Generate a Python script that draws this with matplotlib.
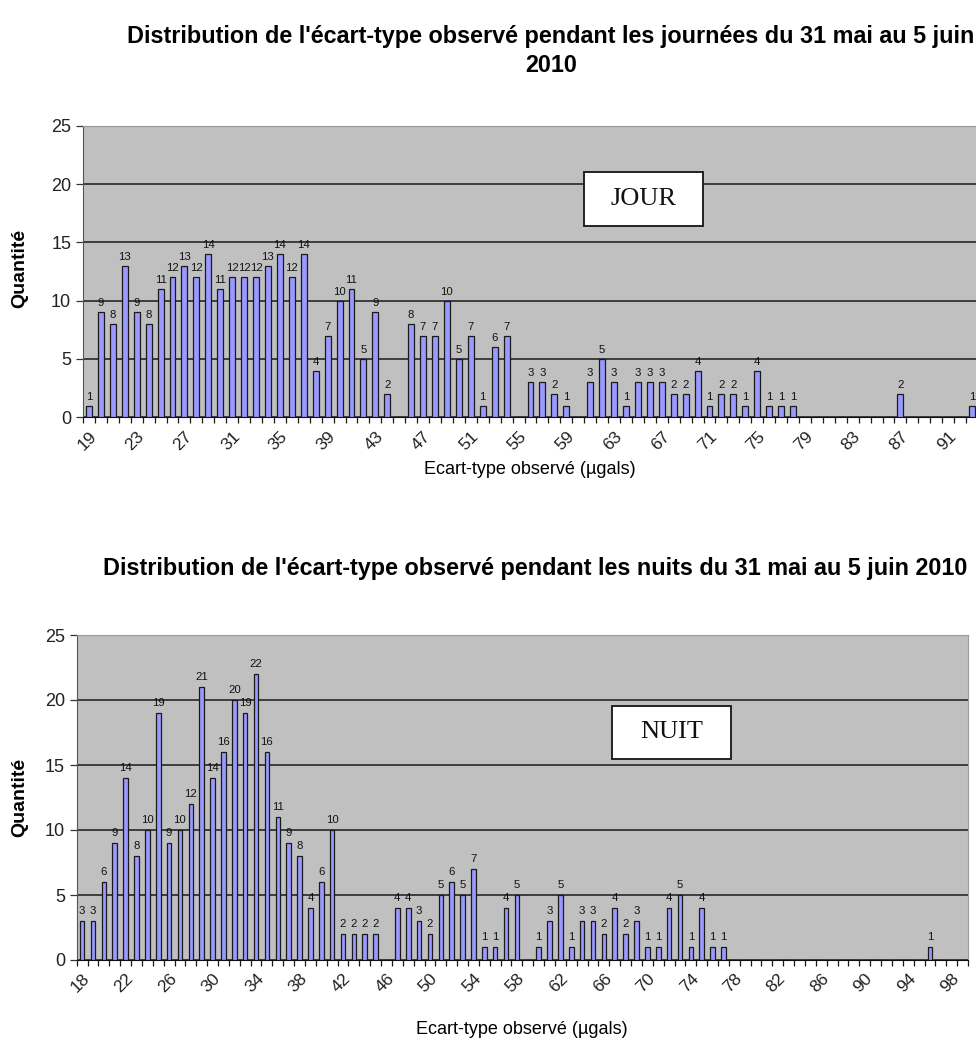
import numpy as np
import matplotlib
matplotlib.use("Agg")
import matplotlib.pyplot as plt

plt.rcParams['font.family'] = ['Liberation Sans', 'DejaVu Sans']

# Jour : ecart-type 19 .. 93
jour_ecart = list(range(19, 94))
jour_qte = [1, 9, 8, 13, 9, 8, 11, 12, 13, 12, 14, 11, 12, 12, 12, 13, 14, 12, 14, 4,
            7, 10, 11, 5, 9, 2, 0, 8, 7, 7, 10, 5, 7, 1, 6, 7, 0, 3, 3, 2,
            1, 0, 3, 5, 3, 1, 3, 3, 3, 2, 2, 4, 1, 2, 2, 1, 4, 1, 1, 1,
            0, 0, 0, 0, 0, 0, 0, 0, 2, 0, 0, 0, 0, 0, 1]
jour_labels = list(range(19, 94, 4))

# Nuit : ecart-type 18 .. 99
nuit_ecart = list(range(18, 100))
nuit_qte = [3, 3, 6, 9, 14, 8, 10, 19, 9, 10, 12, 21, 14, 16, 20, 19, 22, 16, 11, 9,
            8, 4, 6, 10, 2, 2, 2, 2, 0, 4, 4, 3, 2, 5, 6, 5, 7, 1, 1, 4,
            5, 0, 1, 3, 5, 1, 3, 3, 2, 4, 2, 3, 1, 1, 4, 5, 1, 4, 1, 1,
            0, 0, 0, 0, 0, 0, 0, 0, 0, 0, 0, 0, 0, 0, 0, 0, 0, 0, 1, 0,
            0, 0]
nuit_labels = list(range(18, 100, 4))

W, H = 976, 1045
fig = plt.figure(figsize=(W / 100, H / 100), dpi=100)


def px_axes(left, top, right, bottom):
    return fig.add_axes([left / W, 1 - bottom / H, (right - left) / W, (bottom - top) / H])


def px_box(left, top, right, bottom, txt):
    # white text box drawn in figure pixels
    fig.add_artist(plt.Rectangle((left / W, 1 - bottom / H), (right - left) / W, (bottom - top) / H,
                                 transform=fig.transFigure, facecolor='white',
                                 edgecolor='#222222', linewidth=1.4, zorder=5))
    fig.text((left + right) / 2 / W, 1 - (top + bottom) / 2 / H, txt, ha='center', va='center',
             fontsize=19, family='Liberation Serif', color='#111111', zorder=6)


def draw(ax, x, y, labels, width):
    ax.set_facecolor('#c0c0c0')
    ax.bar(x, y, width=width, color='#9999ff', edgecolor='#1a1a1a', linewidth=0.9, zorder=3)
    for xi, yi in zip(x, y):
        if yi > 0:
            ax.text(xi, yi + 0.35, str(yi), ha='center', va='bottom', fontsize=8.2, color='#111111')
    ax.set_xlim(x[0] - 0.5, x[-1] + 0.5)
    ax.set_ylim(0, 25)
    ax.set_yticks(range(0, 26, 5))
    ax.yaxis.grid(True, color='#1a1a1a', linewidth=1.1, zorder=1)
    ax.set_axisbelow(True)
    ax.set_xticks(labels)
    ax.set_xticklabels([str(v) for v in labels], rotation=45, ha='right', va='top',
                       rotation_mode='anchor', fontsize=12.5, color='#222222')
    ax.set_xticks(np.arange(x[0] - 0.5, x[-1] + 1.0, 1.0), minor=True)
    ax.tick_params(axis='x', which='major', length=0, pad=8)
    ax.tick_params(axis='x', which='minor', length=4, width=0.9, color='#1a1a1a')
    ax.tick_params(axis='y', length=5, width=0.9, labelsize=13, labelcolor='#222222', color='#333333')
    for s in ['top', 'right']:
        ax.spines[s].set_color('#9a9a9a')
    ax.spines['left'].set_color('#555555')
    ax.spines['bottom'].set_color('#111111')


# JOUR
ax1 = px_axes(83, 125.7, 978, 417.3)
draw(ax1, jour_ecart, jour_qte, jour_labels, 0.5)
px_box(584, 172, 703, 226, 'JOUR')
fig.text(551 / W, 1 - 37 / H, "Distribution de l'écart-type observé pendant les journées du 31 mai au 5 juin",
         ha='center', va='center', fontsize=16.8, fontweight='bold')
fig.text(551 / W, 1 - 66 / H, "2010", ha='center', va='center', fontsize=16.8, fontweight='bold')
fig.text(20 / W, 1 - 268 / H, "Quantité", rotation=90, ha='center', va='center', fontsize=14, fontweight='bold')
fig.text(530 / W, 1 - 470 / H, "Ecart-type observé (µgals)", ha='center', va='center', fontsize=13)

# NUIT
ax2 = px_axes(76.7, 635, 968, 960)
draw(ax2, nuit_ecart, nuit_qte, nuit_labels, 0.42)
px_box(612, 706, 731, 759, 'NUIT')
fig.text(535 / W, 1 - 568 / H, "Distribution de l'écart-type observé pendant les nuits du 31 mai au 5 juin 2010",
         ha='center', va='center', fontsize=16.8, fontweight='bold')
fig.text(20 / W, 1 - 797 / H, "Quantité", rotation=90, ha='center', va='center', fontsize=14, fontweight='bold')
fig.text(522 / W, 1 - 1030 / H, "Ecart-type observé (µgals)", ha='center', va='center', fontsize=13)

fig.savefig('out.png', dpi=100)
